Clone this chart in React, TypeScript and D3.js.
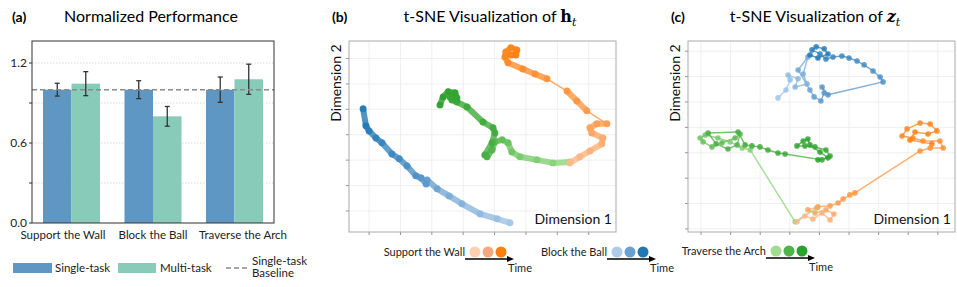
import React from 'react';
import * as d3 from 'd3';

// ---- panel (a) data ----
const tasks = ['Support the Wall', 'Block the Ball', 'Traverse the Arch'];
const singleMean = [1.0, 1.0, 1.0];
const singleErr = [0.048, 0.067, 0.095];
const multiMean = [1.045, 0.8, 1.078];
const multiErr = [0.09, 0.074, 0.113];
const yTicksA = [0, 0.3, 0.6, 0.9, 1.2];
const yLabelsA = ['0.0', '', '0.6', '', '1.2'];
const baseline = 1.0;

// ---- panel (b) t-SNE of h_t, points in time order ----
const hBlue: [number, number][] = [
  [44.9, -4.7], [40.8, -3.1], [35.4, -1.2], [29.6, 2.8], [25.5, 5.9], [21.7, 8.7],
  [18.5, 12.2], [18.2, 10.6], [16.6, 13.0], [14.9, 13.8], [12.1, 17.7], [9.6, 20.5],
  [7.3, 22.4], [4.1, 26.8], [2.2, 28.7], [0, 31.5], [-1.0, 33.5], [-1.9, 40.2],
];
const hGreen: [number, number][] = [
  [64.0, 19.3], [58.6, 18.9], [53.5, 20.1], [48.1, 21.3], [45.5, 23.2], [44.3, 26.8],
  [42.4, 28.0], [40.1, 27.2], [39.2, 24.0], [37.6, 21.3], [36.9, 22.0], [39.2, 26.8],
  [40.1, 30.7], [39.5, 32.7], [36.3, 35.0], [31.2, 40.9], [28.0, 42.9], [26.4, 43.7],
  [25.8, 44.9], [28.0, 44.5], [27.4, 46.5], [25.2, 46.9], [23.6, 44.9], [22.6, 41.7],
];
const hOrange: [number, number][] = [
  [64.0, 18.9], [67.2, 21.3], [70.4, 23.6], [74.2, 26.4], [74.5, 28.7], [71.0, 30.7],
  [70.4, 32.7], [72.6, 34.3], [75.8, 34.3], [69.4, 39.4], [66.2, 43.3], [63.1, 47.2],
  [56.7, 52.0], [52.9, 53.9], [49.0, 55.9], [44.3, 58.3], [43.3, 60.6], [43.6, 62.6],
  [45.2, 64.2], [47.1, 63.4], [46.8, 61.4], [45.2, 61.4],
];

// ---- panel (c) t-SNE of z_t, points in time order ----
const zBlue: [number, number][] = [
  [26.0, 51.6], [28.7, 54.7], [30.1, 58.7], [29.4, 60.6], [32.8, 59.1], [31.8, 55.9],
  [35.8, 57.1], [34.5, 61.0], [36.1, 67.7], [32.8, 62.6], [36.8, 54.7], [38.2, 52.0],
  [40.5, 50.4], [41.6, 53.5], [40.9, 55.9], [42.9, 52.8], [61.5, 57.9], [60.5, 59.8],
  [58.1, 62.2], [55.1, 64.6], [52.7, 66.1], [50.0, 67.3], [47.6, 68.1], [44.6, 67.7],
  [42.2, 66.9], [40.2, 68.9], [37.5, 70.5], [38.9, 71.7], [41.6, 70.9], [42.9, 68.9],
  [39.5, 67.3], [36.8, 68.5],
];
const zGreen: [number, number][] = [
  [39.2, 8.3], [31.8, 2.8], [16.6, 31.1], [13.9, 31.9], [9.8, 34.3], [5.7, 35.8],
  [1.4, 37.0], [-0.3, 35.8], [0.7, 34.3], [3.7, 32.3], [7.1, 33.9], [11.5, 35.8],
  [13.2, 37.4], [12.2, 33.1], [9.1, 31.5], [5.1, 33.5], [2.4, 37.8], [12.5, 38.2],
  [14.9, 33.1], [17.2, 32.7], [19.9, 32.3], [22.6, 31.1], [26.0, 29.9], [28.4, 29.5],
  [40.9, 27.2], [43.6, 28.7], [42.2, 31.1], [38.5, 32.3], [35.1, 32.7], [32.4, 32.7],
  [34.5, 34.6], [36.1, 35.4], [36.8, 33.1], [40.2, 30.3], [42.9, 28.0], [39.5, 27.2],
];
const zOrange: [number, number][] = [
  [32.4, 2.8], [35.1, 5.1], [37.8, 3.9], [40.9, 6.3], [43.6, 3.5], [44.9, 5.9],
  [42.2, 7.5], [38.5, 6.3], [36.1, 7.5], [39.5, 8.7], [43.6, 9.1], [46.3, 10.2],
  [48.0, 11.8], [50.3, 13.4], [52.0, 14.2], [74.0, 30.7], [77.4, 31.9], [81.8, 31.9],
  [80.7, 34.6], [75.0, 34.6], [71.6, 35.8], [67.9, 36.6], [69.6, 39.4], [74.0, 41.7],
  [77.4, 41.3], [79.7, 38.6], [76.7, 37.4], [72.3, 38.2], [70.6, 35.0], [78.0, 33.5],
];

const legendTasks = ['Support the Wall', 'Block the Ball', 'Traverse the Arch'];
const ramps: Record<string, string[]> = {
  orange: ['#fdd0b1', '#f4a97c', '#ff7f0e'],
  blue: ['#aecbea', '#6ba1d0', '#1f77b4'],
  green: ['#9fdc8f', '#4db548', '#2ca02c'],
};
// slightly stronger versions used on the trajectories themselves
const pathRamps: Record<string, string[]> = {
  orange: ['#fdba8c', '#fd9a4a', '#ff7f0e'],
  blue: ['#a5c6e8', '#5e9acd', '#1f77b4'],
  green: ['#8fd880', '#4caf45', '#2ca02c'],
};

const FONT = 'Lato, "Open Sans", sans-serif';
const SERIF = '"DejaVu Serif", "Liberation Serif", serif';

function rampScale(name: string, n: number) {
  return d3.scaleLinear<string>().domain([0, (n - 1) * 0.4, n - 1]).range(pathRamps[name]).interpolate(d3.interpolateRgb);
}

const BarPanel = () => {
  const x0 = d3.scaleBand().domain(tasks).range([32, 274]).paddingInner(0.3).paddingOuter(0.135);
  const x1 = d3.scaleBand().domain(['single', 'multi']).range([0, x0.bandwidth()]);
  const xLab = d3.scalePoint().domain(tasks).range([63, 243]);
  const y = d3.scaleLinear().domain([0, 1.365]).range([223, 41]);
  const bars = tasks.flatMap((t, i) => [
    { t, k: 'single', v: singleMean[i], e: singleErr[i], c: '#5e97c3' },
    { t, k: 'multi', v: multiMean[i], e: multiErr[i], c: '#88cbb9' },
  ]);
  return (
    <g>
      <text x={12} y={22} fontFamily={FONT} fontWeight="bold" fontSize={14}>(a)</text>
      <text x={151} y={22} fontFamily={FONT} fontSize={16} textAnchor="middle">Normalized Performance</text>
      {yTicksA.map((t, i) => (
        <g key={i}>
          {t > 0 && <line x1={32} x2={274} y1={y(t)} y2={y(t)} stroke="#d8d8d8" strokeDasharray="1.5,1.5" />}
          <line x1={29} x2={32} y1={y(t)} y2={y(t)} stroke="#333" />
          {yLabelsA[i] && (
            <text x={27} y={y(t) + 4} textAnchor="end" fontFamily={FONT} fontSize={12} fill="#222">{yLabelsA[i]}</text>
          )}
        </g>
      ))}
      {bars.map((b, i) => {
        const bx = (x0(b.t) as number) + (x1(b.k) as number);
        const cx = bx + x1.bandwidth() / 2;
        return (
          <g key={i}>
            <rect x={bx} y={y(b.v)} width={x1.bandwidth()} height={y(0) - y(b.v)} fill={b.c} />
            <line x1={cx} x2={cx} y1={y(b.v - b.e)} y2={y(b.v + b.e)} stroke="#333" strokeWidth={1.3} />
            <line x1={cx - 2.5} x2={cx + 2.5} y1={y(b.v - b.e)} y2={y(b.v - b.e)} stroke="#333" strokeWidth={1.3} />
            <line x1={cx - 2.5} x2={cx + 2.5} y1={y(b.v + b.e)} y2={y(b.v + b.e)} stroke="#333" strokeWidth={1.3} />
          </g>
        );
      })}
      <line x1={32} x2={274} y1={y(baseline)} y2={y(baseline)} stroke="#8a8a8a" strokeWidth={1.5} strokeDasharray="5,3" />
      <rect x={32} y={41} width={242} height={182} fill="none" stroke="#333" strokeWidth={1} />
      {tasks.map((t) => (
        <text key={t} x={xLab(t)} y={239} textAnchor="middle" fontFamily={FONT} fontSize={11.5} fill="#222">{t}</text>
      ))}
      <rect x={13} y={263} width={39} height={10} fill="#5e97c3" />
      <text x={55} y={272} fontFamily={FONT} fontSize={11.5} fill="#222">Single-task</text>
      <rect x={118} y={263} width={38} height={10} fill="#88cbb9" />
      <text x={160} y={272} fontFamily={FONT} fontSize={11.5} fill="#222">Multi-task</text>
      <line x1={226} x2={247} y1={268} y2={268} stroke="#8a8a8a" strokeWidth={1.5} strokeDasharray="5,3" />
      <text x={252} y={265} fontFamily={FONT} fontSize={11.5} fill="#222">Single-task</text>
      <text x={252} y={277} fontFamily={FONT} fontSize={11.5} fill="#222">Baseline</text>
    </g>
  );
};

type Traj = { pts: [number, number][]; ramp: string };

const TsnePanel = ({ left, right, xDomain, yDomain, xTicks, yTicks, series, thick, label, titleX, title }: any) => {
  const top = 41, bottom = 232;
  const x = d3.scaleLinear().domain(xDomain).range([left, right]);
  const y = d3.scaleLinear().domain(yDomain).range([bottom, top]);
  return (
    <g>
      <text x={left - 17} y={22} fontFamily={FONT} fontWeight="bold" fontSize={14}>{label}</text>
      <text x={titleX} y={22} fontFamily={FONT} fontSize={16} textAnchor="middle">{title}</text>
      {xTicks.map((t: number) => (
        <g key={'x' + t}>
          <line x1={x(t)} x2={x(t)} y1={top} y2={bottom} stroke="#ebebeb" strokeWidth={0.8} />
          <line x1={x(t)} x2={x(t)} y1={bottom} y2={bottom + 3} stroke="#777" strokeWidth={0.8} />
        </g>
      ))}
      {yTicks.map((t: number) => (
        <g key={'y' + t}>
          <line x1={left} x2={right} y1={y(t)} y2={y(t)} stroke="#ebebeb" strokeWidth={0.8} />
          <line x1={left - 3} x2={left} y1={y(t)} y2={y(t)} stroke="#777" strokeWidth={0.8} />
        </g>
      ))}
      {series.map((s: Traj, si: number) => {
        const col = rampScale(s.ramp, s.pts.length);
        return (
          <g key={si} strokeLinecap="round">
            {s.pts.slice(1).map((p, i) => {
              const a = s.pts[i];
              const len = Math.hypot(x(p[0]) - x(a[0]), y(p[1]) - y(a[1]));
              const w = thick ? (len > 23 ? 1.5 : 6) : 1.5;
              return (
                <line key={i} x1={x(a[0])} y1={y(a[1])} x2={x(p[0])} y2={y(p[1])}
                  stroke={col(i + 0.5)} strokeWidth={w} strokeOpacity={thick ? 0.8 : 0.75} />
              );
            })}
            {s.pts.map((p, i) => (
              <circle key={'c' + i} cx={x(p[0])} cy={y(p[1])} r={thick ? 3.5 : 2.8} fill={col(i)} fillOpacity={0.85} />
            ))}
          </g>
        );
      })}
      <rect x={left} y={top} width={right - left} height={bottom - top} fill="none" stroke="#aaa" strokeWidth={1} />
      <text x={right - 4} y={224} textAnchor="end" fontFamily={FONT} fontSize={14} fill="#111">Dimension 1</text>
      <text transform={`translate(${left - 8},${83}) rotate(-90)`} textAnchor="middle" fontFamily={FONT} fontSize={14} fill="#111">Dimension 2</text>
    </g>
  );
};

const TimeLegend = ({ x, y, name, ramp }: any) => {
  const cols = ramps[ramp];
  return (
    <g>
      <text x={x - 5} y={y + 4} textAnchor="end" fontFamily={FONT} fontSize={11} fill="#222">{name}</text>
      {cols.map((c: string, i: number) => (
        <circle key={i} cx={x + 5 + i * 13} cy={y} r={5.5} fill={c} />
      ))}
      <line x1={x - 5} x2={x + 38} y1={y + 7} y2={y + 7} stroke="#000" strokeWidth={1.6} />
      <path d={`M${x + 44},${y + 7} L${x + 37},${y + 4} L${x + 37},${y + 10} Z`} fill="#000" />
      <text x={x + 38} y={y + 20} fontFamily={FONT} fontSize={11} fill="#222">Time</text>
    </g>
  );
};

export default function App() {
  const xTicksB = d3.range(0, 71, 10);
  const yTicksB = d3.range(0, 61, 10);
  const xTicksC = d3.range(0, 81, 10);
  const yTicksC = d3.range(0, 71, 10);
  return (
    <svg width={957} height={287} style={{ position: 'absolute', left: 0, top: 0, background: '#fff' }}>
      <BarPanel />
      <TsnePanel
        left={349} right={616} xDomain={[-6.4, 78.7]} yDomain={[-8.3, 66.9]}
        xTicks={xTicksB} yTicks={yTicksB} thick label="(b)" titleX={490}
        series={[{ pts: hBlue, ramp: 'blue' }, { pts: hGreen, ramp: 'green' }, { pts: hOrange, ramp: 'orange' }]}
        title={<>t-SNE Visualization of <tspan fontFamily={SERIF} fontWeight="bold">h</tspan><tspan fontFamily={SERIF} fontStyle="italic" fontSize={11} dy={4}>t</tspan></>}
      />
      <TsnePanel
        left={688} right={955} xDomain={[-4.4, 85.8]} yDomain={[-1.2, 74.0]}
        xTicks={xTicksC} yTicks={yTicksC} thick={false} label="(c)" titleX={815}
        series={[{ pts: zBlue, ramp: 'blue' }, { pts: zGreen, ramp: 'green' }, { pts: zOrange, ramp: 'orange' }]}
        title={<>t-SNE Visualization of <tspan fontFamily={SERIF} fontWeight="bold" fontStyle="italic">z</tspan><tspan fontFamily={SERIF} fontStyle="italic" fontSize={11} dy={4}>t</tspan></>}
      />
      <TimeLegend x={470} y={252} name={legendTasks[0]} ramp="orange" />
      <TimeLegend x={612} y={252} name={legendTasks[1]} ramp="blue" />
      <TimeLegend x={771} y={251} name={legendTasks[2]} ramp="green" />
    </svg>
  );
}
